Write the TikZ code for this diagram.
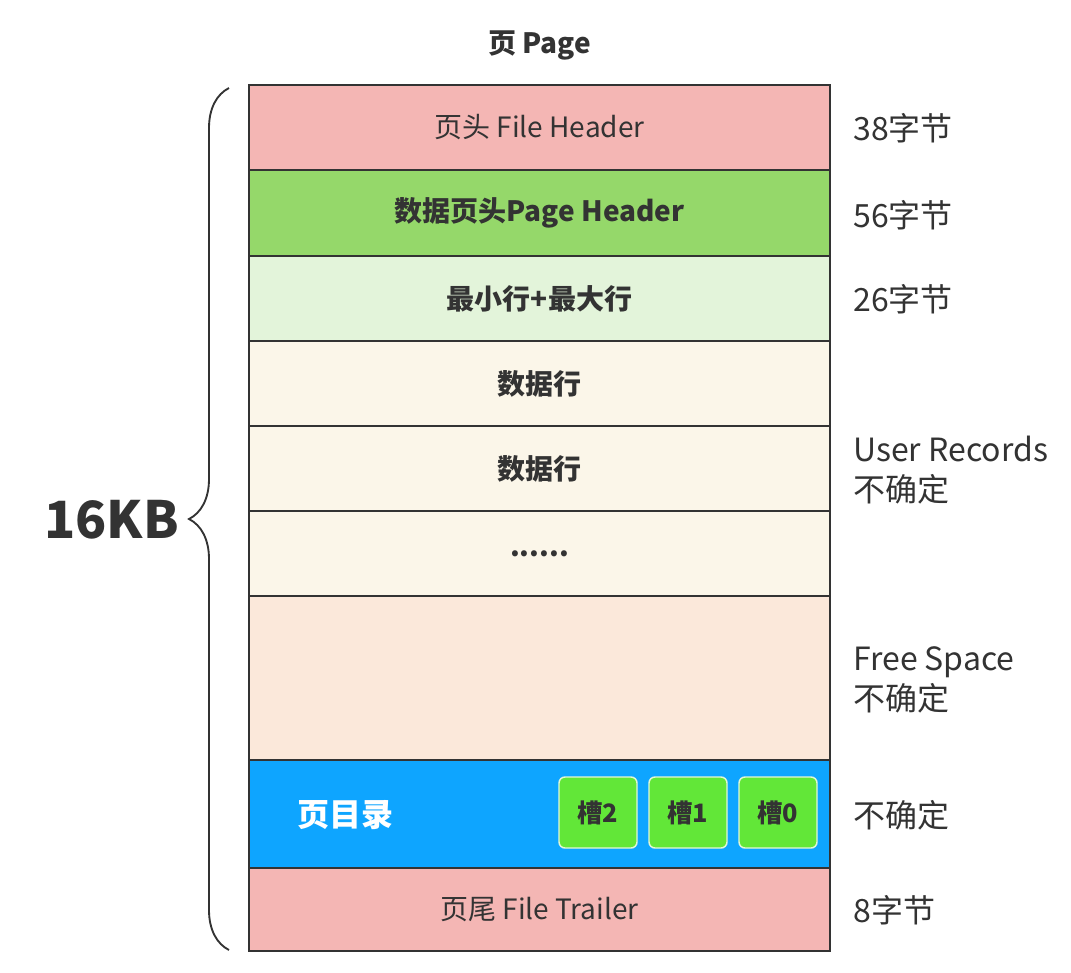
\documentclass[tikz,border=0pt]{standalone}
\usepackage{fontspec}
\setmainfont{Noto Sans CJK SC}
\usetikzlibrary{decorations.pathreplacing}
\definecolor{ink}{HTML}{333333}
\definecolor{pinkc}{HTML}{F4B6B4}
\definecolor{greenc}{HTML}{95D86A}
\definecolor{lgreen}{HTML}{E3F4DA}
\definecolor{creamc}{HTML}{FBF6E9}
\definecolor{peachc}{HTML}{FBE8DA}
\definecolor{bluec}{HTML}{0EA5FF}
\definecolor{slotc}{HTML}{62E738}
\definecolor{slotb}{HTML}{E2F7D6}
\tikzset{
  rowbox/.style={draw=ink, line width=1.2pt, minimum width=435.75pt, inner sep=0pt, outer sep=0pt, text=ink, font=\fontsize{21}{25}\selectfont},
  boldrow/.style={rowbox, font=\fontsize{21}{25}\selectfont\bfseries},
  slotbox/.style={draw=slotb, line width=1.1pt, fill=slotc, rounded corners=4.5pt, minimum width=58.5pt, minimum height=53.25pt, inner sep=0pt, text=ink, font=\fontsize{19}{22}\selectfont\bfseries},
  sidelabel/.style={anchor=west, align=left, inner sep=0pt, text=ink, font=\fontsize{24}{30}\selectfont},
}
\begin{document}
\begin{tikzpicture}[x=0.75pt,y=-0.75pt]
\useasboundingbox (0,0) rectangle (1071,972);
\node[text=ink, font=\fontsize{21}{25}\selectfont\bfseries] (title) at (539.5,45) {页 Page};
\node[rowbox, fill=pinkc, minimum height=63.75pt] (fh) at (539.5,127.5) {页头 File Header};
\node[boldrow, fill=greenc, minimum height=64.5pt] (ph) at (539.5,213) {数据页头Page Header};
\node[boldrow, fill=lgreen, minimum height=63.75pt] (mm) at (539.5,298.5) {最小行+最大行};
\node[boldrow, fill=creamc, minimum height=63.75pt] (d1) at (539.5,383.5) {数据行};
\node[boldrow, fill=creamc, minimum height=63.75pt] (d2) at (539.5,468.5) {数据行};
\node[boldrow, fill=creamc, minimum height=63.75pt] (d3) at (539.5,553.5) {......};
\node[rowbox, fill=peachc, minimum height=123pt] (fs) at (539.5,678) {};
\node[rowbox, fill=bluec, minimum height=81pt] (dir) at (539.5,814) {};
\node[rowbox, fill=pinkc, minimum height=62.25pt] (tr) at (539.5,909.5) {页尾 File Trailer};
\node[text=white, font=\fontsize{24}{28}\selectfont\bfseries] (dirlabel) at (345,815) {页目录};
\node[slotbox] (s2) at (598,812.5) {槽2};
\node[slotbox] (s1) at (688,812.5) {槽1};
\node[slotbox] (s0) at (778,812.5) {槽0};
\node[sidelabel] (l1) at (853,128) {38字节};
\node[sidelabel] (l2) at (853,215) {56字节};
\node[sidelabel] (l3) at (853,299) {26字节};
\node[sidelabel] (l4) at (853,470) {User Records\\不确定};
\node[sidelabel] (l5) at (853,680) {Free Space\\不确定};
\node[sidelabel] (l6) at (853,815) {不确定};
\node[sidelabel] (l7) at (853,910) {8字节};
\draw[ink, line width=1.4pt, decorate, decoration={brace, amplitude=30pt, aspect=0.5}] (229,950) -- (229,88);
\node[text=ink, font=\fontsize{38.5}{44}\selectfont\bfseries, anchor=east, inner sep=0pt] (size) at (179,520) {16KB};
\end{tikzpicture}
\end{document}
